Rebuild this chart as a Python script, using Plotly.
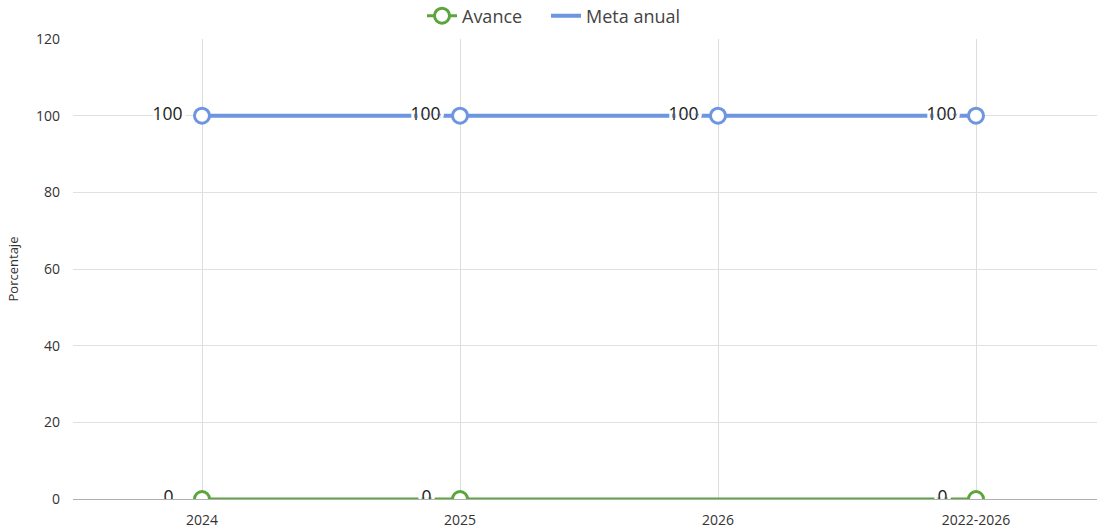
import plotly.graph_objects as go

categories = ["2024", "2025", "2026", "2022-2026"]
avance = [0, 0, None, 0]
meta_anual = [100, 100, 100, 100]
y_ticks = [0, 20, 40, 60, 80, 100, 120]

GREEN = "#5ba53d"
BLUE = "#6d95e0"
FONT = "Open Sans, sans-serif"
W, H = 1097, 529
halo = ("white 4px 0px 0px, white -4px 0px 0px, white 0px 2px 0px, white 0px -2px 0px, "
        "white 3px 2px 0px, white -3px -2px 0px, white 3px -2px 0px, white -3px 2px 0px")


def label(v):
    # centre labels at a fixed distance left of the marker
    if v is None:
        return ""
    s = str(v)
    return s + "\u00a0" * (2 + (3 - len(s)))


fig = go.Figure()

# Meta anual line (legend shows line only)
fig.add_trace(go.Scatter(
    x=categories, y=meta_anual, name="Meta anual", mode="lines",
    line=dict(color=BLUE, width=4), legend="legend2", cliponaxis=True,
))
fig.add_trace(go.Scatter(
    x=categories, y=meta_anual, name="Meta anual", mode="markers+text",
    showlegend=False, text=[label(v) for v in meta_anual],
    textposition="middle left",
    textfont=dict(family=FONT, size=17.5, color="#222", shadow=halo),
    marker=dict(color="white", size=15, line=dict(color=BLUE, width=3)),
    cliponaxis=True,
))

# Avance
fig.add_trace(go.Scatter(
    x=categories, y=avance, name="Avance", mode="lines+markers+text",
    connectgaps=True,
    text=[label(v) for v in avance],
    textposition="middle left",
    textfont=dict(family=FONT, size=17.5, color="#222", shadow=halo),
    line=dict(color=GREEN, width=3),
    marker=dict(color="white", size=15, line=dict(color=GREEN, width=3)),
    legend="legend", cliponaxis=True,
))

legend_common = dict(orientation="h", xref="container", xanchor="left",
                     y=1 - 16 / H, yref="container", yanchor="middle",
                     font=dict(size=18, color="#444"), itemwidth=30,
                     bgcolor="rgba(0,0,0,0)")

fig.update_layout(
    width=W, height=H,
    margin=dict(l=73, r=0, t=39, b=30, autoexpand=False),
    paper_bgcolor="white", plot_bgcolor="white",
    font=dict(family=FONT, color="#333"),
    showlegend=True,
    legend=dict(x=(428 - 6) / W, **legend_common),
    legend2=dict(x=(553 - 7) / W, **legend_common),
    hovermode=False,
    # white band just below the plot area so marks centred on 0 are cut in half
    shapes=[dict(type="rect", xref="paper", yref="paper", x0=0, x1=1,
                 y0=-10 / 460, y1=-1.2 / 460, fillcolor="white",
                 line=dict(width=0), layer="above")],
)

fig.update_xaxes(
    type="category", range=[-0.5, 3.469], automargin=False,
    showgrid=True, gridcolor="#dddddd", gridwidth=1,
    tickfont=dict(size=14, color="#333"),
    showline=False, zeroline=False, ticks="", ticklabelstandoff=11,
)
fig.update_yaxes(
    range=[0, 120], tickvals=y_ticks, automargin=False,
    showgrid=True, gridcolor="#e0e0e0", gridwidth=1,
    tickfont=dict(size=14, color="#333"),
    title=dict(text="Porcentaje", font=dict(size=13, color="#333"), standoff=14),
    showline=False, zeroline=True, zerolinecolor="#b0b0b0", zerolinewidth=1,
    ticks="", ticklabelstandoff=12,
)

fig.write_html("out.html", config={"displayModeBar": False},
               post_script="document.body.style.margin='0';")
